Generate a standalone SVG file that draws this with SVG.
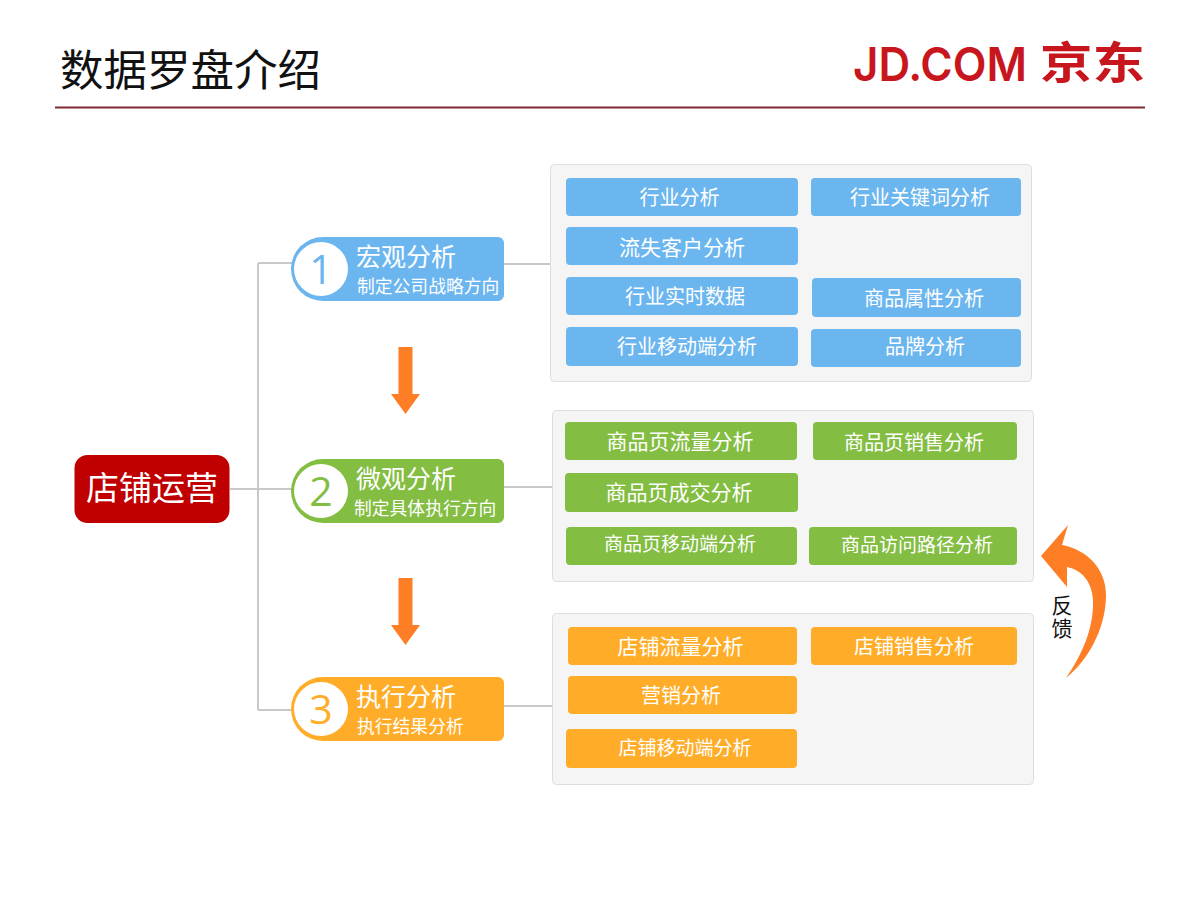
<svg xmlns="http://www.w3.org/2000/svg" width="1200" height="900" viewBox="0 0 1200 900">
<style>
text{font-family:"Noto Sans CJK SC","Liberation Sans",sans-serif;}
.t{fill:#fff;text-anchor:middle;font-size:20px;}
.w{font-size:21px;}
.x{font-size:19px;}
.b{fill:#6cb6f0;}.g{fill:#83bd42;}.o{fill:#ffad29;}
.p{fill:#f5f5f5;stroke:#dedede;stroke-width:1;}
.c{fill:none;stroke:#c8c8c8;stroke-width:2;}
.h{fill:#fff;font-size:25px;}
.s{fill:#fff;font-size:17.800px;}
.n{font-family:"Open Sans",sans-serif;font-weight:400;font-size:41px;text-anchor:middle;}
.a{fill:#fd7e24;}
</style>
<rect width="1200" height="900" fill="#fff"/>
<text id="title" x="60" y="86" font-size="43.500" fill="#111">数据罗盘介绍</text>
<line x1="55" y1="107.500" x2="1145" y2="107.500" stroke="#7f2a32" stroke-width="2"/>
<g id="logo" fill="#c8161e">
<text x="853" y="81" font-size="47" font-weight="600" textLength="174" lengthAdjust="spacingAndGlyphs" style="font-family:Inter,sans-serif">JD.COM</text>
<text x="1040" y="79" font-size="44" font-weight="700" textLength="105" lengthAdjust="spacingAndGlyphs">京东</text>
</g>
<g id="connectors">
<path class="c" d="M230 489H292M258 263V710M258 263H292M258 710H292"/>
<path class="c" d="M504 264H550M504 487H552M504 706H552"/>
</g>
<g id="arrows">
<path class="a" d="M398.500 347H412.500V394H420L405.500 414L391 394H398.500Z"/>
<path class="a" d="M398.500 578H412.500V625H420L405.500 645L391 625H398.500Z"/>
<path id="feedback-arrow" class="a" d="M1068 525L1062 545C1088 550 1107 570 1106 597C1105 630 1088 660 1066 678C1082 655 1094 628 1093 600C1092 582 1082 570 1067 567L1067 587L1041 556Z"/>
<text font-size="21" fill="#111" x="1062" y="595" letter-spacing="2" style="writing-mode:vertical-rl">反馈</text>
</g>
<g id="root"><rect x="74.500" y="455" width="155" height="68" rx="13" fill="#c00000"/><text x="152" y="500" font-size="33" fill="#fff" text-anchor="middle">店铺运营</text></g>
<g id="step1"><path class="b" d="M323 237H498a6 6 0 0 1 6 6V295a6 6 0 0 1-6 6H323a32 32 0 0 1 0-64Z"/><circle cx="321" cy="269" r="27" fill="#fff"/><text class="n" x="321" y="284" fill="#6cb6f0">1</text><text class="h" x="356" y="266">宏观分析</text><text class="s" x="357" y="293">制定公司战略方向</text></g>
<g id="step2"><path class="g" d="M323 459H498a6 6 0 0 1 6 6V517a6 6 0 0 1-6 6H323a32 32 0 0 1 0-64Z"/><circle cx="321" cy="491" r="27" fill="#fff"/><text class="n" x="321" y="506" fill="#83bd42">2</text><text class="h" x="356" y="488">微观分析</text><text class="s" x="354" y="515">制定具体执行方向</text></g>
<g id="step3"><path class="o" d="M323 677H498a6 6 0 0 1 6 6V735a6 6 0 0 1-6 6H323a32 32 0 0 1 0-64Z"/><circle cx="321" cy="709" r="27" fill="#fff"/><text class="n" x="321" y="724" fill="#ffad29">3</text><text class="h" x="356" y="706">执行分析</text><text class="s" x="357" y="733">执行结果分析</text></g>
<g id="panel1"><rect class="p" x="550.500" y="164.500" width="481" height="217" rx="4"/>
<g id="n11"><rect class="b" x="566" y="178" width="232" height="38" rx="4"/><text class="t" x="679.500" y="205">行业分析</text></g>
<g id="n12"><rect class="b" x="811" y="178" width="210" height="38" rx="4"/><text class="t" x="920" y="205">行业关键词分析</text></g>
<g id="n13"><rect class="b" x="566" y="227" width="232" height="38" rx="4"/><text class="t w" x="682" y="255">流失客户分析</text></g>
<g id="n14"><rect class="b" x="566" y="277" width="232" height="38" rx="4"/><text class="t" x="685" y="304">行业实时数据</text></g>
<g id="n15"><rect class="b" x="812" y="278" width="209" height="39" rx="4"/><text class="t" x="924" y="306">商品属性分析</text></g>
<g id="n16"><rect class="b" x="566" y="327" width="232" height="39" rx="4"/><text class="t" x="687" y="354">行业移动端分析</text></g>
<g id="n17"><rect class="b" x="811" y="329" width="210" height="38" rx="4"/><text class="t" x="925" y="354">品牌分析</text></g></g>
<g id="panel2"><rect class="p" x="552.500" y="410.500" width="481" height="171" rx="4"/>
<g id="n21"><rect class="g" x="565" y="422" width="232" height="38" rx="4"/><text class="t w" x="680" y="449">商品页流量分析</text></g>
<g id="n22"><rect class="g" x="813" y="422" width="204" height="38" rx="4"/><text class="t" x="914" y="450">商品页销售分析</text></g>
<g id="n23"><rect class="g" x="565" y="473" width="233" height="39" rx="4"/><text class="t w" x="679" y="500">商品页成交分析</text></g>
<g id="n24"><rect class="g" x="566" y="527" width="231" height="38" rx="4"/><text class="t x" x="680" y="551">商品页移动端分析</text></g>
<g id="n25"><rect class="g" x="809" y="527" width="208" height="38" rx="4"/><text class="t x" x="917" y="552">商品访问路径分析</text></g></g>
<g id="panel3"><rect class="p" x="552.500" y="613.500" width="481" height="171" rx="4"/>
<g id="n31"><rect class="o" x="568" y="627" width="229" height="38" rx="4"/><text class="t w" x="680.500" y="654">店铺流量分析</text></g>
<g id="n32"><rect class="o" x="811" y="627" width="206" height="38" rx="4"/><text class="t" x="914" y="654">店铺销售分析</text></g>
<g id="n33"><rect class="o" x="568" y="676" width="229" height="38" rx="4"/><text class="t" x="681" y="703">营销分析</text></g>
<g id="n34"><rect class="o" x="566" y="729" width="231" height="39" rx="4"/><text class="t x" x="685" y="755">店铺移动端分析</text></g></g>
</svg>
